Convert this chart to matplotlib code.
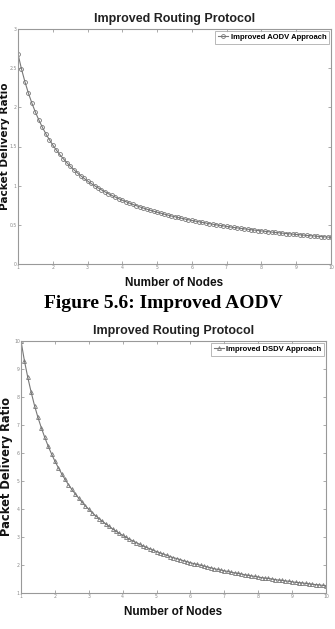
import numpy as np
import matplotlib
matplotlib.use("Agg")
import matplotlib.pyplot as plt

# ---------------------------------------------------------------------------
# data (x = number of nodes, 0.1 steps from 1 to 10)
nodes = np.linspace(1, 10, 91)

aodv_pdr = [
    2.680, 2.490, 2.325, 2.180, 2.053, 1.939, 1.838, 1.746, 1.663, 1.588,
    1.519, 1.456, 1.398, 1.345, 1.295, 1.249, 1.206, 1.166, 1.128, 1.093,
    1.060, 1.029, 1.000, 0.972, 0.946, 0.921, 0.897, 0.875, 0.854, 0.833,
    0.814, 0.796, 0.778, 0.761, 0.745, 0.729, 0.715, 0.700, 0.687, 0.673,
    0.661, 0.649, 0.637, 0.625, 0.614, 0.604, 0.594, 0.584, 0.574, 0.565,
    0.556, 0.547, 0.539, 0.531, 0.523, 0.515, 0.508, 0.500, 0.493, 0.487,
    0.480, 0.473, 0.467, 0.461, 0.455, 0.449, 0.444, 0.438, 0.433, 0.427,
    0.422, 0.417, 0.412, 0.407, 0.403, 0.398, 0.394, 0.389, 0.385, 0.381,
    0.377, 0.373, 0.369, 0.365, 0.361, 0.358, 0.354, 0.350, 0.347, 0.344,
    0.340,
]

dsdv_pdr = [
    10.00, 9.30, 8.70, 8.17, 7.69, 7.27, 6.90, 6.56, 6.25, 5.97,
    5.71, 5.48, 5.26, 5.06, 4.87, 4.70, 4.54, 4.39, 4.25, 4.11,
    3.99, 3.87, 3.76, 3.66, 3.56, 3.47, 3.38, 3.29, 3.21, 3.13,
    3.06, 2.99, 2.92, 2.86, 2.80, 2.74, 2.68, 2.63, 2.58, 2.53,
    2.48, 2.43, 2.39, 2.35, 2.30, 2.26, 2.23, 2.19, 2.15, 2.12,
    2.08, 2.05, 2.02, 1.99, 1.96, 1.93, 1.90, 1.87, 1.84, 1.82,
    1.79, 1.77, 1.74, 1.72, 1.70, 1.68, 1.65, 1.63, 1.61, 1.59,
    1.57, 1.55, 1.53, 1.52, 1.50, 1.48, 1.46, 1.45, 1.43, 1.42,
    1.40, 1.38, 1.37, 1.36, 1.34, 1.33, 1.31, 1.30, 1.29, 1.27,
    1.26,
]

x_ticks = list(range(1, 11))
aodv_yticks = [0, 0.5, 1, 1.5, 2, 2.5, 3]
dsdv_yticks = list(range(1, 11))

# ---------------------------------------------------------------------------
narrow = ["Liberation Sans", "DejaVu Sans"]
W, H = 335, 629
fig = plt.figure(figsize=(W / 100, H / 100), dpi=100)
fig.patch.set_facecolor("white")


def px_axes(left, top, right, bottom):
    return fig.add_axes([left / W, 1 - bottom / H, (right - left) / W, (bottom - top) / H])


def style(ax, yticks, ylim, label_x, label_size):
    ax.set_xlim(1, 10)
    ax.set_ylim(*ylim)
    ax.set_xticks(x_ticks)
    ax.set_yticks(yticks)
    ax.set_yticklabels([f"{t:g}" for t in yticks])
    ax.tick_params(direction="in", length=2.5, width=0.5, labelsize=3.3,
                   colors="#888888", top=True, right=True, pad=0.8)
    for s in ax.spines.values():
        s.set_color("#999999")
        s.set_linewidth(0.8)
    ax.set_title("Improved Routing Protocol", fontsize=9, fontweight="bold",
                 family=narrow, color="#222222", pad=5)
    ax.set_xlabel("Number of Nodes", fontsize=8.5, fontweight="bold",
                  family=narrow, color="#111111", labelpad=5)
    ax.set_ylabel("Packet Delivery Ratio", fontsize=label_size, fontweight="bold",
                  family="DejaVu Sans", color="#111111")
    # label sits just left of the tick labels, as in the original export
    ax.yaxis.set_label_coords(label_x, 0.5)
    leg = ax.legend(loc="upper right", prop={"family": narrow, "weight": "bold", "size": 5.5},
                    frameon=True, fancybox=False, borderpad=0.4, handlelength=1.3,
                    handletextpad=0.3, borderaxespad=0.2)
    leg.get_frame().set_edgecolor("#999999")
    leg.get_frame().set_linewidth(0.6)


ax1 = px_axes(18, 29, 331, 264)
ax1.plot(nodes, aodv_pdr, color="#777777", lw=0.8, marker="o", ms=2.8,
         mfc="none", mew=0.6, label="Improved AODV Approach")
style(ax1, aodv_yticks, (0, 3), -0.027, 7.6)

ax2 = px_axes(21, 341, 326, 593)
ax2.plot(nodes, dsdv_pdr, color="#777777", lw=0.8, marker="^", ms=2.8,
         mfc="none", mew=0.6, label="Improved DSDV Approach")
style(ax2, dsdv_yticks, (1, 10), -0.025, 8.3)

fig.text(163 / W, 1 - 304 / H, "Figure 5.6: Improved AODV", ha="center", va="center",
         fontsize=14, fontweight="bold", family="Liberation Serif")

fig.savefig("out.png", dpi=100)
